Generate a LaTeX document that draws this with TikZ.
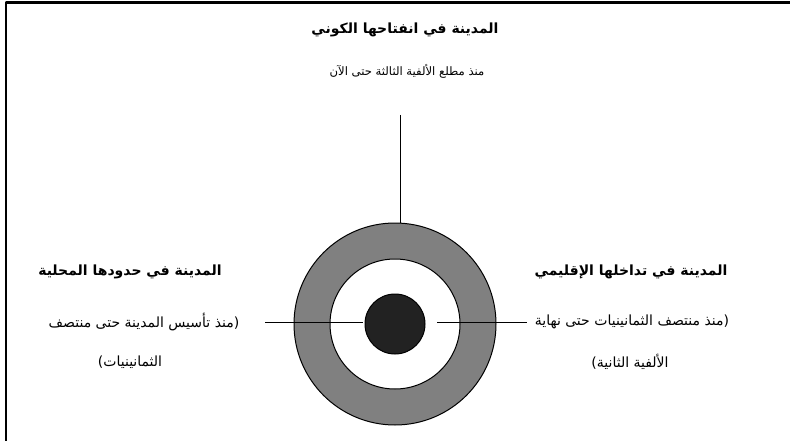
\documentclass[tikz,border=0pt]{standalone}
\usepackage{fontspec}
\usepackage{tikz}
\usetikzlibrary{positioning}
\TeXXeTstate=1
\newfontfamily\arabicfont[Script=Arabic]{DejaVu Sans}
\definecolor{ringgray}{HTML}{808080}
\definecolor{coredark}{HTML}{222222}
\tikzset{
  every picture/.style={line join=round, line cap=butt},
  ring/.style={circle, draw=black, line width=1pt, inner sep=0pt},
  spoke/.style={draw=black, line width=1pt},
  frameline/.style={draw=black, line width=2.6pt},
  titletext/.style={font=\arabicfont\bfseries\fontsize{14}{16}\selectfont, inner sep=0pt},
  subtext/.style={font=\arabicfont\fontsize{11.6}{14}\selectfont, inner sep=0pt},
  sidetext/.style={font=\arabicfont\fontsize{14}{16}\selectfont, inner sep=0pt},
}

\begin{document}
\begin{tikzpicture}[x=1pt,y=-1pt]
\useasboundingbox (0,0) rectangle (790,441);
\draw[frameline] (6,441) |- (790,2.5);
\node[ring,fill=ringgray,minimum size=202pt] (outer) at (395,324) {};
\node[ring,fill=white,minimum size=130pt] (middle) at (395,324) {};
\node[ring,fill=coredark,minimum size=60pt] (core) at (395,324) {};
\coordinate (vtop) at (400,115);
\coordinate (lend) at (265,322);
\coordinate (lin) at (363,322);
\coordinate (rin) at (437,322);
\coordinate (rend) at (527,322);
\draw[spoke] (vtop) -- (vtop |- outer.north);
\draw[spoke] (lend) -- (lin);
\draw[spoke] (rin) -- (rend);
\node[titletext] (toptitle) at (405,30) {\beginR المدينة في انفتاحها الكوني\endR};
\node[subtext] (topsub) at (407,71) {\beginR منذ مطلع الألفية الثالثة حتى الآن\endR};
\node[titletext] (lefttitle) at (130,272) {\beginR المدينة في حدودها المحلية\endR};
\node[sidetext] (leftsub) at (144,322) {\beginR (منذ تأسيس المدينة حتى منتصف\endR};
\node[sidetext] (leftend) at (130,362) {\beginR الثمانينيات)\endR};
\node[titletext] (righttitle) at (631,272) {\beginR المدينة في تداخلها الإقليمي\endR};
\node[sidetext] (rightsub) at (632,322) {\beginR (منذ منتصف الثمانينيات حتى نهاية\endR};
\node[sidetext] (rightend) at (630,362) {\beginR الألفية الثانية)\endR};
\end{tikzpicture}
\end{document}
